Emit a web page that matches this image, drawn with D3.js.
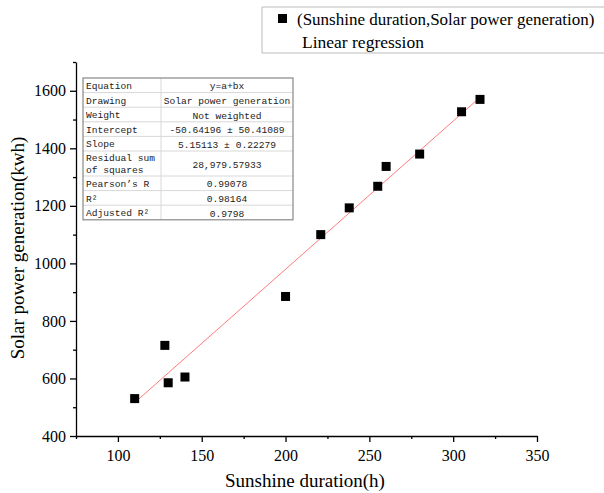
<!DOCTYPE html>
<html>
<head>
  <meta charset="utf-8"/>
  <script src="https://d3js.org/d3.v7.min.js"></script>
  <style>
    html, body { margin: 0; padding: 0; background: #fff; overflow: hidden; }
    svg { display: block; }
    text { font-family: "Liberation Serif", "Times New Roman", serif; fill: #000; }
    .tbl text { font-family: "Liberation Mono", monospace; font-size: 9.6px; fill: #222; }
  </style>
</head>
<body>
<div id="chart"></div>
<script>
  // measured points
  const sunshine = [110, 128, 130, 140, 200, 221, 238, 255, 260, 280, 305, 316];
  const power    = [530, 715, 585, 605, 885, 1100, 1193, 1268, 1337, 1380, 1527, 1570];

  // fit result (from the results table)
  const intercept = -50.64196;
  const slope = 5.15113;

  const xTicks = [100, 150, 200, 250, 300, 350];
  const yTicks = [400, 600, 800, 1000, 1200, 1400, 1600];

  const tableRows = [
    ["Equation", "y=a+bx"],
    ["Drawing", "Solar power generation"],
    ["Weight", "Not weighted"],
    ["Intercept", "-50.64196 \u00b1 50.41089"],
    ["Slope", "5.15113 \u00b1 0.22279"],
    [["Residual sum", "of squares"], "28,979.57933"],
    ["Pearson\u2019s R", "0.99078"],
    ["R\u00b2", "0.98164"],
    ["Adjusted R\u00b2", "0.9798"]
  ];

  const width = 604, height = 493;
  const svg = d3.select("#chart").append("svg")
    .attr("width", width).attr("height", height);

  const x = d3.scaleLinear().domain([75, 350]).range([76, 537]);
  const y = d3.scaleLinear().domain([400, 1700]).range([436, 62]);

  // x axis with minor ticks
  const xMinor = d3.range(75, 351, 25).filter(v => !xTicks.includes(v));
  svg.append("g").attr("transform", "translate(0,436)")
    .call(d3.axisBottom(x).tickValues(xMinor).tickSize(3).tickFormat(""))
    .call(g => g.select(".domain").remove());
  const gx = svg.append("g").attr("transform", "translate(0,436)")
    .call(d3.axisBottom(x).tickValues(xTicks).tickSize(6).tickSizeOuter(0).tickPadding(8));
  gx.selectAll("text").style("font-size", "16px");

  const yMinor = d3.range(500, 1701, 200);
  svg.append("g").attr("transform", "translate(76,0)")
    .call(d3.axisLeft(y).tickValues(yMinor).tickSize(3).tickFormat(""))
    .call(g => g.select(".domain").remove());
  const gy = svg.append("g").attr("transform", "translate(76,0)")
    .call(d3.axisLeft(y).tickValues(yTicks).tickSize(6).tickSizeOuter(0).tickPadding(4)
      .tickFormat(d3.format("d")));
  gy.selectAll("text").style("font-size", "16px");

  svg.selectAll(".domain, .tick line").attr("stroke", "#000").attr("stroke-width", 1.3);

  // axis titles
  svg.append("text")
    .attr("x", 305).attr("y", 487)
    .attr("text-anchor", "middle")
    .style("font-size", "19px")
    .text("Sunshine duration(h)");
  svg.append("text")
    .attr("transform", "translate(24,248) rotate(-90)")
    .attr("text-anchor", "middle")
    .style("font-size", "19px")
    .text("Solar power generation(kwh)");

  // regression line
  const xr = d3.extent(sunshine);
  svg.append("line")
    .attr("x1", x(xr[0])).attr("y1", y(intercept + slope * xr[0]))
    .attr("x2", x(xr[1])).attr("y2", y(intercept + slope * xr[1]))
    .attr("stroke", "#ff5050").attr("stroke-width", 0.9).attr("stroke-opacity", 0.85);

  // points
  const pts = sunshine.map((s, i) => ({ s, p: power[i] }));
  const sq = 9;
  svg.selectAll(".pt").data(pts).enter().append("rect")
    .attr("class", "pt")
    .attr("x", d => x(d.s) - sq / 2).attr("y", d => y(d.p) - sq / 2)
    .attr("width", sq).attr("height", sq)
    .attr("fill", "#000");

  // results table
  const tbl = svg.append("g").attr("class", "tbl");
  const tx0 = 83, tx1 = 293, tcol = 161;
  const rowH = tableRows.map(r => Array.isArray(r[0]) ? 25 : 14.6);
  let ty = 78;
  tableRows.forEach((r, i) => {
    const h = rowH[i];
    if (i > 0) {
      tbl.append("line").attr("x1", tx0).attr("x2", tx1).attr("y1", ty).attr("y2", ty)
        .attr("stroke", "#d8d8d8");
    }
    const lines = Array.isArray(r[0]) ? r[0] : [r[0]];
    lines.forEach((t, k) => {
      tbl.append("text").attr("x", tx0 + 3)
        .attr("y", ty + (lines.length > 1 ? 10 + k * 12 : 11))
        .text(t);
    });
    tbl.append("text").attr("x", (tcol + tx1) / 2)
      .attr("y", ty + h / 2 + 4)
      .attr("text-anchor", "middle")
      .text(r[1]);
    ty += h;
  });
  tbl.append("line").attr("x1", tcol).attr("x2", tcol).attr("y1", 78).attr("y2", ty)
    .attr("stroke", "#d8d8d8");
  tbl.append("rect").attr("x", tx0).attr("y", 78)
    .attr("width", tx1 - tx0).attr("height", ty - 78)
    .attr("fill", "none").attr("stroke", "#888").attr("stroke-width", 1.2);

  // legend
  const lg = svg.append("g");
  lg.append("path").attr("d", "M610,7H262V53H610")
    .attr("fill", "none").attr("stroke", "#bbb");
  lg.append("rect").attr("x", 278).attr("y", 14).attr("width", 9).attr("height", 9).attr("fill", "#000");
  lg.append("text").attr("x", 297).attr("y", 25).style("font-size", "17px")
    .text("(Sunshine duration,Solar power generation)");
  lg.append("text").attr("x", 302).attr("y", 48).style("font-size", "17.5px")
    .text("Linear regression");
</script>
</body>
</html>
